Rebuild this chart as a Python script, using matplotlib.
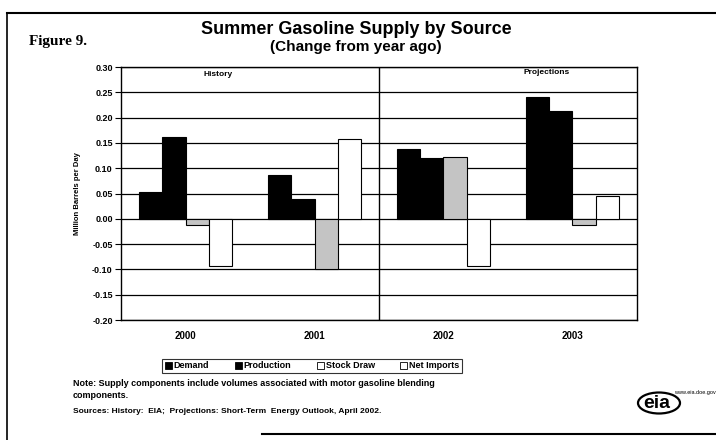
import matplotlib.pyplot as plt
import numpy as np
from matplotlib.lines import Line2D
from matplotlib.patches import Ellipse, Patch

years = ["2000", "2001", "2002", "2003"]
series = ["Demand", "Production", "Stock Draw", "Net Imports"]
demand = [0.052, 0.087, 0.137, 0.240]
production = [0.162, 0.039, 0.120, 0.214]
stock_draw = [-0.012, -0.099, 0.122, -0.012]
net_imports = [-0.093, 0.157, -0.093, 0.045]
y_ticks = [-0.20, -0.15, -0.10, -0.05, 0.00, 0.05, 0.10, 0.15, 0.20, 0.25, 0.30]

W, H = 716, 440
fig = plt.figure(figsize=(W / 100, H / 100), dpi=100)
fig.patch.set_facecolor("white")


def fx(px):
    return px / W


def fy(py):
    return 1 - py / H


ax = fig.add_axes([fx(121), fy(320), fx(637) - fx(121), fy(67) - fy(320)])

x = np.arange(len(years))
bw = 0.182
values = [demand, production, stock_draw, net_imports]
faces = ["black", "black", "#c4c4c4", "white"]
for i, (vals, fc) in enumerate(zip(values, faces)):
    ax.bar(x + (i - 1.5) * bw, vals, bw, color=fc, edgecolor="black",
           linewidth=0.8, zorder=3)

for t in y_ticks:
    ax.axhline(t, color="black", linewidth=0.9, zorder=1)
ax.axvline(1.5, color="black", linewidth=1.0, zorder=2)

ax.set_xlim(-0.5, 3.5)
ax.set_ylim(-0.20, 0.30)
ax.set_yticks(y_ticks)
ax.set_yticklabels([f"{t:.2f}" for t in y_ticks], fontsize=6.5,
                   fontweight="bold", family="Liberation Sans")
ax.set_xticks(x)
ax.set_xticklabels(years, fontsize=7, fontweight="bold", family="Liberation Sans")
ax.tick_params(axis="x", length=0, pad=8)
ax.tick_params(axis="y", length=4, width=0.8, direction="out", pad=2)
for s in ax.spines.values():
    s.set_linewidth(1.0)
ax.set_ylabel("Million Barrels per Day", fontsize=5.5, fontweight="bold",
              family="Liberation Sans", labelpad=8)

ax.text(0.25, 0.285, "History", ha="center", va="center", fontsize=6,
        fontweight="bold", family="Liberation Sans")
ax.text(2.8, 0.29, "Projections", ha="center", va="center", fontsize=6,
        fontweight="bold", family="Liberation Sans")

# legend
handles = [
    Patch(facecolor="black", edgecolor="black", linewidth=0.6),
    Patch(facecolor="black", edgecolor="black", linewidth=0.6),
    Patch(facecolor="white", edgecolor="black", linewidth=0.6),
    Patch(facecolor="white", edgecolor="black", linewidth=0.6),
]
leg = fig.legend(handles, series, loc="center", ncol=4,
                 bbox_to_anchor=(fx(312), fy(366)), frameon=True, fancybox=False,
                 prop={"family": "Liberation Sans", "weight": "bold", "size": 6.5},
                 handlelength=0.8, handleheight=0.8, handletextpad=0.2,
                 columnspacing=2.8, borderpad=0.3, edgecolor="black")
leg.get_frame().set_linewidth(0.8)

# titles
fig.text(fx(29), fy(41), "Figure 9.", ha="left", va="center", fontsize=11,
         fontweight="bold", family="Liberation Serif")
fig.text(fx(356), fy(30), "Summer Gasoline Supply by Source", ha="center",
         va="center", fontsize=13, fontweight="bold", family="Liberation Sans")
fig.text(fx(356), fy(47), "(Change from year ago)", ha="center", va="center",
         fontsize=11, fontweight="bold", family="Liberation Sans")

# notes
note_kw = dict(ha="left", va="center", fontsize=6.5, fontweight="bold",
               family="Liberation Sans")
fig.text(fx(73), fy(383), "Note: Supply components include volumes associated "
         "with motor gasoline blending", **note_kw)
fig.text(fx(73), fy(395), "components.", **note_kw)
fig.text(fx(73), fy(411), "Sources: History:  EIA;  Projections: Short-Term  "
         "Energy Outlook, April 2002.", fontsize=6, ha="left", va="center",
         fontweight="bold", family="Liberation Sans")

# eia logo
fig.add_artist(Ellipse((fx(659), fy(403)), fx(42), 21 / H, transform=fig.transFigure,
                       fill=False, edgecolor="black", linewidth=1.6))
fig.text(fx(657), fy(403), "eia", ha="center", va="center", fontsize=14,
         fontweight="bold", family="Liberation Sans")
fig.text(fx(674), fy(392), "www.eia.doe.gov", ha="left", va="center",
         fontsize=4, family="Liberation Sans")

# page border
fig.add_artist(Line2D([fx(7), fx(716)], [fy(13), fy(13)], color="black", linewidth=1.5))
fig.add_artist(Line2D([fx(7), fx(7)], [fy(13), fy(440)], color="black", linewidth=1.2))
fig.add_artist(Line2D([fx(262), fx(716)], [fy(434), fy(434)], color="black", linewidth=1.5))

fig.savefig("out.png", dpi=100)
